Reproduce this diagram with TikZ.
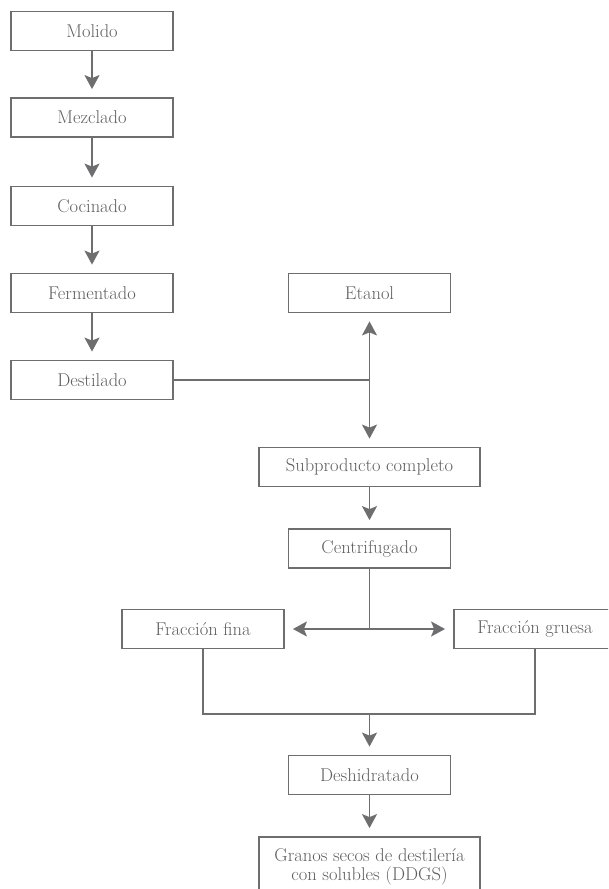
\documentclass[tikz,border=0pt]{standalone}
\usepackage{fontspec}
\usetikzlibrary{arrows.meta}
\definecolor{ink}{HTML}{6E6E70}
\definecolor{label}{HTML}{5E5E60}
\begin{document}
\begin{tikzpicture}[x=1pt,y=-1pt,
  box/.style={draw=ink, line width=1.8pt, text=label, minimum height=39pt,
    inner sep=0pt, font=\fontsize{18.5}{18.5}\selectfont, align=center},
  lbox/.style={box, minimum width=162pt},
  wbox/.style={box, minimum width=221pt},
  link/.style={draw=ink, line width=1.8pt, line join=miter},
  flow/.style={link, -{Stealth[length=14pt,width=15pt,inset=3pt]}, shorten >=8pt},
]
\useasboundingbox (0,0) rectangle (608,889);
\clip (0,0) rectangle (608,889);

% main process column
\node[lbox] (molido)   at (92,31)    {Molido};
\node[lbox] (mezclado) at (92,117.5) {Mezclado};
\node[lbox] (cocinado) at (92,206)   {Cocinado};
\node[lbox] (ferment)  at (92,293)   {Fermentado};
\node[lbox] (destil)   at (92,380)   {Destilado};

% products
\node[lbox] (etanol)   at (369.5,293)   {Etanol};
\node[wbox] (subprod)  at (369.5,467)   {Subproducto completo};
\node[lbox] (centri)   at (369.5,548.5) {Centrifugado};
\node[lbox] (fina)     at (203,629)     {Fracción fina};
\node[lbox] (gruesa)   at (535,629)     {Fracción gruesa};
\node[lbox] (deshid)   at (369.5,775)   {Deshidratado};
\node[wbox, minimum height=60pt] (ddgs) at (369.5,867)
  {Granos secos de destilería\\con solubles (DDGS)};

% junction points
\coordinate (jd) at (etanol.south |- destil.east);
\coordinate (jc) at (centri.south |- fina.east);
\coordinate (jl) at (fina.south |- 0,714);
\coordinate (jr) at (gruesa.south |- 0,714);
\coordinate (jm) at (deshid.north |- 0,714);

% connectors
\draw[flow] (molido) -- (mezclado);
\draw[flow] (mezclado) -- (cocinado);
\draw[flow] (cocinado) -- (ferment);
\draw[flow] (ferment) -- (destil);

\draw[link] (destil.east) -- (jd);
\draw[flow] (jd) -- (etanol.south);
\draw[flow] (jd) -- (subprod.north);
\draw[flow] (subprod) -- (centri);

\draw[link] (centri.south) -- (jc);
\draw[flow] (jc) -- (fina.east);
\draw[flow] (jc) -- (gruesa.west);

\draw[link] (fina.south) -- (jl) -- (jr) -- (gruesa.south);
\draw[flow] (jm) -- (deshid.north);
\draw[flow] (deshid) -- (ddgs);
\end{tikzpicture}
\end{document}
